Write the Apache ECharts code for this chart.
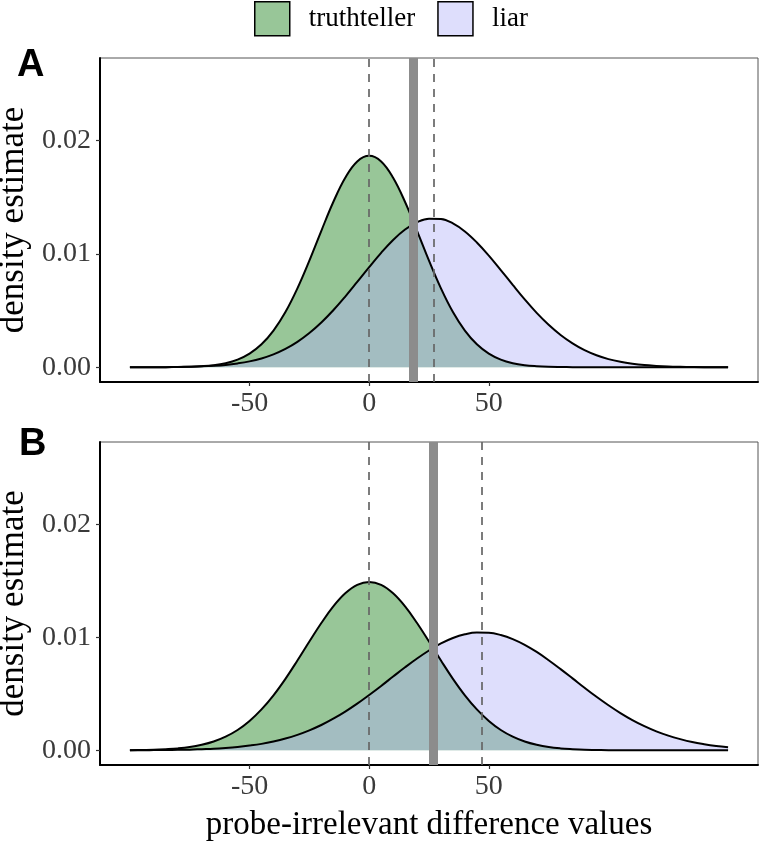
<!DOCTYPE html>
<html><head><meta charset="utf-8">
<script src="https://cdn.jsdelivr.net/npm/echarts@6/dist/echarts.min.js"></script>
<style>html,body{margin:0;padding:0;background:#fff}#c{width:761px;height:844px}</style>
</head><body><div id="c"></div>
<script>
// x grid of the density estimates
const xs = [-100,-95,-90,-85,-80,-75,-70,-65,-60,-55,-50,-45,-40,-35,-30,-25,-20,-15,-10,-5,0,5,10,15,20,25,30,35,40,45,50,55,60,65,70,75,80,85,90,95,100,105,110,115,120,125,130,135,140,145,150];
// Panel A densities
const truthA = [0,0,0,0.00001,0.00002,0.00004,0.00009,0.00018,0.00036,0.00068,
  0.00121,0.00203,0.00324,0.00488,0.00697,0.00942,0.01205,0.01459,0.01673,0.01817,
  0.01867,
  0.01817,0.01673,0.01459,0.01205,0.00942,0.00697,0.00488,0.00324,0.00203,0.00121,
  0.00068,0.00036,0.00018,0.00009,0.00004,0.00002,0.00001,
  0,0,0,0,0,0,0,0,0,0,0,0,0];
const liarA = [0,0,0.00001,0.00001,0.00003,0.00005,0.00008,0.00013,0.00021,0.00034,
  0.00052,0.00078,0.00114,0.00162,0.00224,0.00302,0.00395,0.00503,0.00624,0.00753,
  0.00884,
  0.01010,0.01124,0.01216,0.01280,0.01312,0.01309,0.01270,0.01199,0.01102,0.00986,
  0.00858,0.00727,0.00599,0.00480,0.00375,0.00285,0.00211,
  0.00151,0.00106,0.00072,0.00048,0.00031,0.00019,0.00012,0.00007,0.00004,0.00002,0.00001,0.00001,0];
// Panel B densities
const truthB = [0.00001,0.00003,0.00005,0.00010,0.00017,0.00029,0.00049,0.00078,0.00121,0.00180,
  0.00260,0.00362,0.00487,0.00633,0.00795,0.00963,0.01127,0.01274,0.01390,0.01465,
  0.01491,
  0.01465,0.01390,0.01274,0.01127,0.00963,0.00795,0.00633,0.00487,0.00362,0.00260,
  0.00180,0.00121,0.00078,0.00049,0.00029,0.00017,0.00010,
  0.00005,0.00003,0.00001,0.00001,0,0,0,0,0,0,0,0,0];
const liarB = [0.00001,0.00001,0.00002,0.00003,0.00004,0.00006,0.00010,0.00014,0.00021,0.00030,
  0.00042,0.00057,0.00078,0.00104,0.00137,0.00177,0.00224,0.00280,0.00343,0.00413,
  0.00490,
  0.00570,0.00653,0.00735,0.00813,0.00884,0.00946,0.00994,0.01027,0.01043,0.01041,
  0.01021,0.00985,0.00934,0.00871,0.00798,0.00719,0.00637,
  0.00554,0.00474,0.00399,0.00330,0.00268,0.00214,0.00168,0.00130,0.00099,0.00073,0.00054,0.00039,0.00028];
// reference lines: group means (dashed) and cutoff (thick grey)
const meansA = [0, 27];
const cutoffA = 18.6;
const meansB = [0, 47];
const cutoffB = 26.7;
// ticks
const xTicks = [-50, 0, 50];
const yTicks = [0, 0.01, 0.02];
const yTickLabels = ['0.00', '0.01', '0.02'];
const seriesNames = ['truthteller', 'liar'];
const panelLabels = ['A', 'B'];

const SERIF = '"Liberation Serif","Times New Roman",serif';
const GREEN = '#98c698';
const LIAR_FILL = 'rgba(178,178,248,0.43)';
const LIAR_KEY = '#dedefc';

function zip(x, y) { return x.map((v, i) => [v, y[i]]); }

function xAxis(gi, withName) {
  return {
    type: 'value', gridIndex: gi, min: -112.5, max: 162.5,
    axisLine: { show: true, onZero: false, lineStyle: { color: '#000', width: 2 } },
    axisTick: { show: true, customValues: xTicks, length: 4, lineStyle: { color: '#333', width: 1.2 } },
    axisLabel: { customValues: xTicks, fontFamily: SERIF, fontSize: 28, color: '#3a3a3a', margin: 8 },
    splitLine: { show: false },
    name: withName ? 'probe-irrelevant difference values' : '',
    nameLocation: 'middle', nameGap: 44,
    nameTextStyle: { fontFamily: SERIF, fontSize: 33, color: '#000' }
  };
}
function yAxis(gi) {
  return {
    type: 'value', gridIndex: gi, min: -0.0013, max: 0.0273,
    axisLine: { show: true, onZero: false, lineStyle: { color: '#000', width: 2 } },
    axisTick: { show: true, customValues: yTicks, length: 4, lineStyle: { color: '#333', width: 1.2 } },
    axisLabel: { customValues: yTicks, fontFamily: SERIF, fontSize: 28, color: '#3a3a3a', margin: 9,
      formatter: v => yTickLabels[yTicks.findIndex(t => Math.abs(t - v) < 1e-9)] ?? v.toFixed(2) },
    splitLine: { show: false },
    name: 'density estimate', nameLocation: 'middle', nameGap: 57,
    nameTextStyle: { fontFamily: SERIF, fontSize: 35, color: '#000' }
  };
}
function refLines(means, cutoff) {
  const d = means.map(m => ({ xAxis: m, lineStyle: { color: '#666', width: 1.7, type: [8, 7] } }));
  d.push({ xAxis: cutoff, lineStyle: { color: '#8c8c8c', width: 9, type: 'solid' } });
  return { silent: true, symbol: ['none', 'none'], label: { show: false }, data: d };
}
function panelSeries(gi, truth, liar, means, cutoff) {
  return [
    { type: 'line', name: seriesNames[0], xAxisIndex: gi, yAxisIndex: gi, data: zip(xs, truth),
      symbol: 'none', smooth: 0.4, lineStyle: { color: '#000', width: 2 },
      itemStyle: { color: GREEN }, areaStyle: { color: GREEN, opacity: 1 } },
    { type: 'line', name: seriesNames[1], xAxisIndex: gi, yAxisIndex: gi, data: zip(xs, liar),
      symbol: 'none', smooth: 0.4, lineStyle: { color: '#000', width: 2 },
      itemStyle: { color: LIAR_KEY }, areaStyle: { color: LIAR_FILL, opacity: 1 },
      markLine: refLines(means, cutoff) }
  ];
}

const chart = echarts.init(document.getElementById('c'), null, { renderer: 'canvas' });
chart.setOption({
  animation: false,
  backgroundColor: '#fff',
  grid: [
    { left: 100, top: 58, width: 658, height: 324, show: true, borderColor: '#555', borderWidth: 1,
      containLabel: false, outerBoundsMode: 'none' },
    { left: 100, top: 442, width: 658, height: 323, show: true, borderColor: '#555', borderWidth: 1,
      containLabel: false, outerBoundsMode: 'none' }
  ],
  xAxis: [xAxis(0, false), xAxis(1, true)],
  yAxis: [yAxis(0), yAxis(1)],
  legend: {
    top: 1, left: 254, padding: 0, icon: 'rect', itemWidth: 35, itemHeight: 34, itemGap: 22,
    itemStyle: { borderColor: '#000', borderWidth: 1.5 },
    textStyle: { fontFamily: SERIF, fontSize: 27, color: '#000', padding: [0, 0, 0, 14] },
    data: [
      { name: seriesNames[0], itemStyle: { color: GREEN } },
      { name: seriesNames[1], itemStyle: { color: LIAR_KEY } }
    ]
  },
  graphic: [
    { type: 'text', left: 17, top: 47, style: { text: panelLabels[0], font: 'bold 38px "Liberation Sans", Arial, sans-serif', fill: '#000' } },
    { type: 'text', left: 19, top: 426, style: { text: panelLabels[1], font: 'bold 38px "Liberation Sans", Arial, sans-serif', fill: '#000' } }
  ],
  series: [
    ...panelSeries(0, truthA, liarA, meansA, cutoffA),
    ...panelSeries(1, truthB, liarB, meansB, cutoffB)
  ]
});
</script></body></html>
